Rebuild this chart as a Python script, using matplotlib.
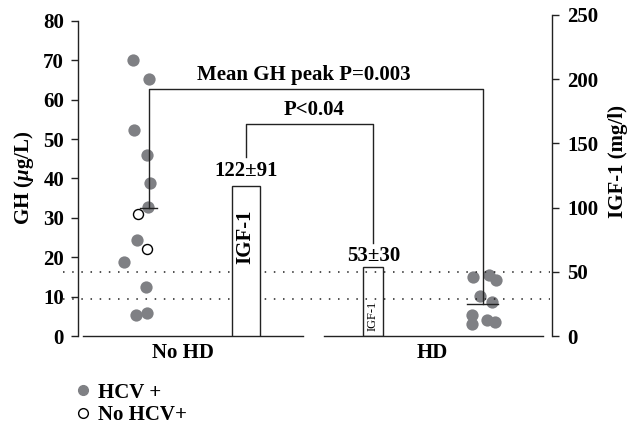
import matplotlib
matplotlib.use("Agg")
import matplotlib.pyplot as plt
from matplotlib.lines import Line2D

# ---------------- data ----------------
groups = ["No HD", "HD"]
group_pos = [0.0, 1.0]

# GH peak values (µg/L) with horizontal jitter
nohd_hcv_pos_gh = [70.1, 65.3, 52.3, 46.0, 38.8, 32.7, 24.4, 18.8, 12.5, 5.3, 5.9]
nohd_hcv_pos_jit = [-0.063, 0.003, -0.058, -0.007, 0.006, -0.002, -0.047, -0.097, -0.011, -0.050, -0.007]
nohd_hcv_neg_gh = [30.9, 22.2]
nohd_hcv_neg_jit = [-0.043, -0.006]
hd_hcv_pos_gh = [15.1, 15.5, 14.2, 10.2, 8.6, 5.3, 3.0, 4.1, 3.5]
hd_hcv_pos_jit = [-0.037, 0.027, 0.053, -0.010, 0.037, -0.043, -0.043, 0.017, 0.050]

gh_means = [32.5, 8.0]
igf1_means = [117, 54]
igf1_labels = ["122±91", "53±30"]
igf1_ref_lines = [50, 29]

gh_ticks = [0, 10, 20, 30, 40, 50, 60, 70, 80]
igf1_ticks = [0, 50, 100, 150, 200, 250]

p_gh_text = "Mean GH peak P=0.003"
p_igf_text = "P<0.04"

# ---------------- style ----------------
plt.rcParams["font.family"] = ["Liberation Serif", "DejaVu Serif"]
plt.rcParams["font.weight"] = "bold"
plt.rcParams["axes.labelweight"] = "bold"
plt.rcParams["mathtext.fontset"] = "custom"
plt.rcParams["mathtext.rm"] = "Liberation Serif:bold"
plt.rcParams["mathtext.it"] = "Liberation Serif:italic:bold"
plt.rcParams["mathtext.bf"] = "Liberation Serif:bold"

GREY = "#7f8084"
LINE = "#222222"
FS = 15

scatter_off = [-0.136, 0.2]
bar_off = [0.254, -0.237]
bar_width = [0.114, 0.08]
bar_face = ["white", "none"]
mean_half = [0.034, 0.062]
base_seg = [(-0.398, 0.481), (-0.434, 0.442)]

fig = plt.figure(figsize=(6.38, 4.26), dpi=100)
ax = fig.add_axes([78 / 638, 1 - 336 / 426, 473.5 / 638, 321 / 426])
ax2 = ax.twinx()

ax.set_xlim(-0.418, 1.476)
ax.set_ylim(0, 81.5)
ax2.set_ylim(0, 250)

scatter_x = [g + o for g, o in zip(group_pos, scatter_off)]
bar_x = [g + o for g, o in zip(group_pos, bar_off)]

# reference dotted lines (IGF-1 scale)
for v in igf1_ref_lines:
    ax2.plot([-0.478, 1.47], [v, v], ls=(0, (1, 5)), lw=1.1, color=LINE,
             clip_on=False, zorder=1)

# IGF-1 bars
for x, h, w, fc in zip(bar_x, igf1_means, bar_width, bar_face):
    ax2.bar(x, h, width=w, facecolor=fc, edgecolor=LINE, linewidth=1.0, zorder=2)

# baselines
for g, (a, b) in zip(group_pos, base_seg):
    ax.plot([g + a, g + b], [0, 0], color=LINE, lw=1.0, clip_on=False, zorder=3)

# points
ax.scatter([scatter_x[0] + j for j in nohd_hcv_pos_jit], nohd_hcv_pos_gh,
           s=78, color=GREY, linewidths=0, zorder=4, clip_on=False)
ax.scatter([scatter_x[0] + j for j in nohd_hcv_neg_jit], nohd_hcv_neg_gh,
           s=52, facecolor="white", edgecolor="black", linewidths=1.0, zorder=5)
ax.scatter([scatter_x[1] + j for j in hd_hcv_pos_jit], hd_hcv_pos_gh,
           s=78, color=GREY, linewidths=0, zorder=4)

# mean lines
for x, m, hw in zip(scatter_x, gh_means, mean_half):
    ax.plot([x - hw, x + hw], [m, m], color=LINE, lw=1.0, zorder=6)

# GH bracket
gh_top = 62.7
ax.plot([scatter_x[0], scatter_x[0], scatter_x[1], scatter_x[1]],
        [gh_means[0], gh_top, gh_top, gh_means[1]], color=LINE, lw=1.0, zorder=6)
ax.text(0.484, 65.0, p_gh_text, ha="center", va="baseline", fontsize=FS)

# IGF-1 bracket
ax2.plot([bar_x[0], bar_x[0], bar_x[1], bar_x[1]], [139.4, 164.9, 164.9, 72.4],
         color=LINE, lw=1.0, zorder=6)
ax.text(0.526, 56.1, p_igf_text, ha="center", va="baseline", fontsize=FS)

# bar labels
ax.text(bar_x[0], 40.5, igf1_labels[0], ha="center", va="baseline", fontsize=FS)
ax.text(bar_x[1], 19.1, igf1_labels[1], ha="center", va="baseline", fontsize=FS)
ax2.text(bar_x[0] - 0.004, 77.3, "IGF-1", rotation=90, ha="center", va="center",
         fontsize=FS, zorder=7)
ax2.text(bar_x[1] - 0.002, 15.5, "IGF-1", rotation=90, ha="center", va="center",
         fontsize=9, fontweight="normal", zorder=7)

# axes decoration
for a in (ax, ax2):
    a.spines["top"].set_visible(False)
    a.spines["bottom"].set_visible(False)
ax.spines["right"].set_visible(False)
ax2.spines["left"].set_visible(False)
ax.spines["left"].set_bounds(0, 80)
ax2.spines["right"].set_bounds(0, 250)
ax.spines["left"].set_linewidth(1.0)
ax2.spines["right"].set_linewidth(1.0)
ax.spines["left"].set_color(LINE)
ax2.spines["right"].set_color(LINE)

ax.set_yticks(gh_ticks)
ax2.set_yticks(igf1_ticks)
ax.tick_params(axis="y", direction="out", length=5, width=1.0, labelsize=FS,
               pad=5, color=LINE)
ax2.tick_params(axis="y", direction="out", length=5, width=1.0, labelsize=FS,
                pad=6.5, color=LINE)
ax.set_xticks(group_pos, groups)
ax.tick_params(axis="x", length=0, labelsize=FS, pad=5)

ax.set_ylabel(r"GH ($\mu$g/L)", fontsize=FS, fontweight="bold")
ax.yaxis.set_label_coords(-0.088, 0.492)
ax2.set_ylabel("IGF-1 (mg/l)", fontsize=FS, fontweight="bold", rotation=90)
ax2.yaxis.set_label_coords(1.120, 0.543)

# legend
handles = [
    Line2D([], [], marker="o", ls="none", mfc=GREY, mec=GREY, ms=7),
    Line2D([], [], marker="o", ls="none", mfc="white", mec="black", ms=7, mew=1.0),
]
fig.legend(handles, ["HCV +", "No HCV+"], loc="upper left",
           bbox_to_anchor=(75 / 638, 1 - 382.5 / 426), frameon=False,
           handlelength=0.8, handletextpad=0.3, borderpad=0, borderaxespad=0,
           labelspacing=0.12, prop={"size": FS, "weight": "bold"})

fig.savefig("out.png", dpi=100)
